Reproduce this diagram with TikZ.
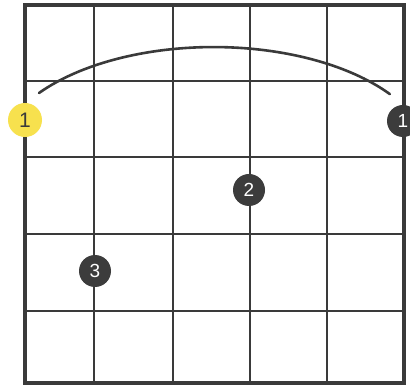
\documentclass[tikz,border=0pt]{standalone}
\usepackage{fontspec}
\setmainfont{Liberation Sans}
\begin{document}
\begin{tikzpicture}[x=1pt,y=-1pt,
  gridline/.style={draw=gridc,line width=2.8pt},
  frameline/.style={draw=gridc,line width=4.8pt},
  barre/.style={draw=gridc,line width=2.6pt,line cap=round},
  fdot/.style={circle,fill=dotc,text=white,minimum size=32pt,inner sep=0pt,font=\fontsize{19}{19}\selectfont},
  ydot/.style={circle,fill=yel,text=gridc,minimum size=34pt,inner sep=0pt,font=\fontsize{21}{21}\selectfont}]
\definecolor{gridc}{HTML}{3A3A3A}
\definecolor{dotc}{HTML}{3C3C3C}
\definecolor{yel}{HTML}{F7E14E}
\useasboundingbox (0,0) rectangle (410,387);
\fill[white] (0,0) rectangle (410,387);
% interior vertical lines
\foreach \x in {94,173,250,327} \draw[gridline] (\x,5) -- (\x,383);
% interior horizontal lines
\foreach \y in {81,157,234,311} \draw[gridline] (25,\y) -- (404,\y);
% frame
\draw[frameline] (25,5) rectangle (404,383);
% barre arc
\coordinate (bs) at (39,93);
\draw[barre] (bs) arc[start angle=-143.6,end angle=-35.7,x radius=217,y radius=113];
% finger dots
\node[ydot] (f1a) at (25,120) {1};
\node[fdot] (f1b) at (403,121) {1};
\node[fdot] (f2) at (249,190) {2};
\node[fdot] (f3) at (95,271) {3};
\end{tikzpicture}
\end{document}
